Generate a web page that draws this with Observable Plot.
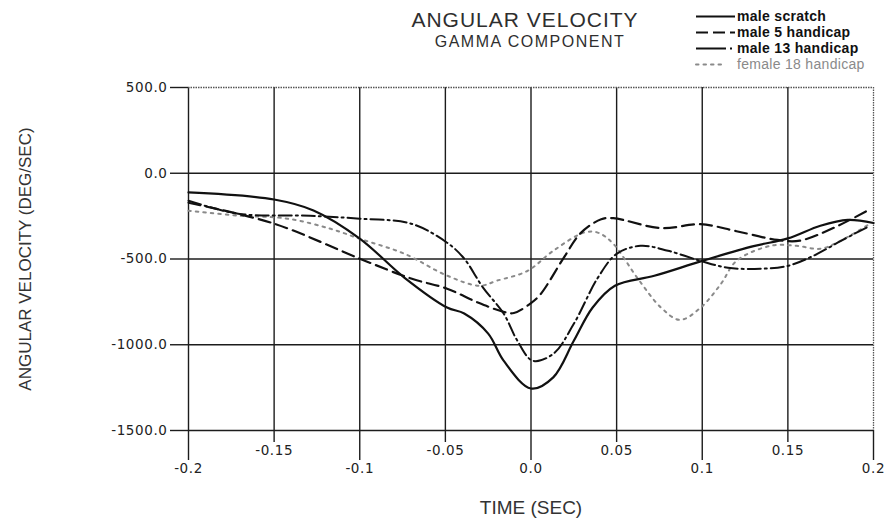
<!DOCTYPE html>
<html><head><meta charset="utf-8">
<script src="https://cdn.jsdelivr.net/npm/d3@7"></script>
<script src="https://cdn.jsdelivr.net/npm/@observablehq/plot@0.6"></script>
<style>
body{margin:0;background:#fff;}
#wrap{position:relative;width:890px;height:527px;font-family:"Liberation Sans",Arial,sans-serif;color:#333;}
#wrap svg.plot{position:absolute;left:0;top:0;}
.ttl{position:absolute;text-align:center;white-space:nowrap;}
.leg{position:absolute;left:695px;height:14px;line-height:14px;font-size:14px;white-space:nowrap;letter-spacing:0.3px;}
.leg svg{vertical-align:top;margin-right:2px;}
[aria-label$="tick label"]{letter-spacing:0.6px;font-family:"DejaVu Sans",sans-serif;font-size:13.5px;fill:#222;}
</style>
</head><body>
<div id="wrap"></div>
<script>
// ---- data ----
const scratchT = [-0.2, -0.15, -0.127, -0.1, -0.074, -0.049, -0.039, -0.025, -0.016, 0, 0.013, 0.025, 0.036, 0.049, 0.072, 0.1, 0.13, 0.15, 0.169, 0.185, 0.2];
const scratchV = [-112, -153, -217, -381, -608, -783, -818, -935, -1093, -1255, -1190, -977, -783, -656, -598, -511, -425, -380, -306, -272, -290];

const male5T = [-0.2, -0.15, -0.1, -0.07, -0.049, -0.031, -0.016, -0.01, 0, 0.0056, 0.019, 0.029, 0.041, 0.048, 0.076, 0.099, 0.12, 0.144, 0.157, 0.177, 0.198];
const male5V = [-172, -294, -498, -614, -673, -754, -808, -815, -757, -705, -495, -349, -268, -262, -320, -297, -338, -389, -393, -317, -210];

const male13T = [-0.2, -0.171, -0.129, -0.1, -0.07, -0.049, -0.039, -0.028, -0.016, -0.008, 0.001, 0.013, 0.025, 0.039, 0.05, 0.064, 0.08, 0.099, 0.115, 0.134, 0.15, 0.165, 0.181, 0.198];
const male13V = [-160, -236, -248, -265, -294, -405, -498, -667, -818, -976, -1093, -1053, -878, -610, -470, -423, -452, -511, -551, -557, -540, -481, -394, -306];

const femaleT = [-0.2, -0.171, -0.142, -0.117, -0.1, -0.074, -0.049, -0.03, -0.02, -0.002, 0.013, 0.031, 0.039, 0.048, 0.062, 0.076, 0.087, 0.099, 0.111, 0.12, 0.14, 0.155, 0.169, 0.181, 0.198];
const femaleV = [-218, -247, -265, -324, -382, -469, -597, -656, -627, -569, -452, -346, -346, -411, -609, -784, -855, -784, -644, -511, -423, -423, -440, -393, -294];

const seriesNames = ["male scratch", "male 5 handicap", "male 13 handicap", "female 18 handicap"];
const yTicks = [500, 0, -500, -1000, -1500];
const yTickLabels = ["500.0", "0.0", "-500.0", "-1000.0", "-1500.0"];
const xMajor = [-0.2, -0.1, 0, 0.1, 0.2];
const xMajorLabels = ["-0.2", "-0.1", "0.0", "0.1", "0.2"];
const xMinor = [-0.15, -0.05, 0.05, 0.15];
const xMinorLabels = ["-0.15", "-0.05", "0.05", "0.15"];
const titleText = "ANGULAR VELOCITY";
const subtitleText = "GAMMA COMPONENT";
const xTitle = "TIME (SEC)";
const yTitle = "ANGULAR VELOCITY (DEG/SEC)";

// ---- build table ----
const toRows = (T, V, s) => T.map((t, i) => ({t, v: V[i], s}));
const scratch = toRows(scratchT, scratchV, seriesNames[0]);
const male5 = toRows(male5T, male5V, seriesNames[1]);
const male13 = toRows(male13T, male13V, seriesNames[2]);
const female = toRows(femaleT, femaleV, seriesNames[3]);

const styles = [
  {stroke: "#111", strokeWidth: 2.2, dash: null},
  {stroke: "#111", strokeWidth: 2.2, dash: "12,6"},
  {stroke: "#111", strokeWidth: 2, dash: "13,4,2,4"},
  {stroke: "#8a8a8a", strokeWidth: 2, dash: "2.5,5"}
];

const gridStroke = "#1c1c1c";
const chart = Plot.plot({
  width: 890, height: 527,
  marginLeft: 188, marginRight: 17, marginTop: 87, marginBottom: 97,
  x: {domain: [-0.2, 0.2]},
  y: {domain: [-1500, 500]},
  style: {fontFamily: "Liberation Sans, Arial, sans-serif", fontSize: "14px", color: "#333", background: "transparent"},
  marks: [
    Plot.ruleX([...xMajor, ...xMinor].filter(d => d !== 0.2), {x: d => d, stroke: gridStroke, strokeWidth: 1.4}),
    Plot.ruleX([0.2], {x: d => d, stroke: "#555", strokeWidth: 1.3, strokeDasharray: "1.5,1"}),
    Plot.ruleY(yTicks.filter(d => d !== 500), {y: d => d, stroke: gridStroke, strokeWidth: 1.4}),
    Plot.ruleY([500], {y: d => d, stroke: "#555", strokeWidth: 1.3, strokeDasharray: "1.5,1"}),
    Plot.axisY({ticks: yTicks, tickSize: 18, tickPadding: 3, strokeWidth: 1.4, stroke: gridStroke,
      tickFormat: d => yTickLabels[yTicks.indexOf(d)], label: null}),
    Plot.axisX({ticks: xMajor, tickSize: 30, tickPadding: 3, strokeWidth: 1.4, stroke: gridStroke,
      tickFormat: d => xMajorLabels[xMajor.indexOf(d)], label: null}),
    Plot.axisX({ticks: xMinor, tickSize: 12, tickPadding: 3, strokeWidth: 1.4, stroke: gridStroke,
      tickFormat: d => xMinorLabels[xMinor.indexOf(d)], label: null}),
    Plot.line(female, {x: "t", y: "v", curve: "catmull-rom", stroke: styles[3].stroke, strokeWidth: styles[3].strokeWidth, strokeDasharray: styles[3].dash, strokeLinecap: "round"}),
    Plot.line(male13, {x: "t", y: "v", curve: "catmull-rom", stroke: styles[2].stroke, strokeWidth: styles[2].strokeWidth, strokeDasharray: styles[2].dash}),
    Plot.line(male5, {x: "t", y: "v", curve: "catmull-rom", stroke: styles[1].stroke, strokeWidth: styles[1].strokeWidth, strokeDasharray: styles[1].dash}),
    Plot.line(scratch, {x: "t", y: "v", curve: "catmull-rom", stroke: styles[0].stroke, strokeWidth: styles[0].strokeWidth}),
    Plot.text([yTitle], {text: d => d, frameAnchor: "left", textAnchor: "middle", dx: -163, rotate: -90, fontSize: 17, fill: "#333"}),
    Plot.text([xTitle], {text: d => d, frameAnchor: "bottom", dy: 83, fontSize: 19, fill: "#333"})
  ]
});
chart.classList.add("plot");
const wrap = document.getElementById("wrap");
wrap.appendChild(chart);

// titles
const t1 = document.createElement("div");
t1.className = "ttl"; t1.textContent = titleText;
Object.assign(t1.style, {left: "325px", width: "400px", top: "9px", fontSize: "21px", lineHeight: "21px", letterSpacing: "1px", color: "#2e2e2e"});
wrap.appendChild(t1);
const t2 = document.createElement("div");
t2.className = "ttl"; t2.textContent = subtitleText;
Object.assign(t2.style, {left: "330px", width: "400px", top: "33.5px", fontSize: "16px", lineHeight: "16px", letterSpacing: "1.5px", color: "#2e2e2e"});
wrap.appendChild(t2);

// legend
const baselines = [20.5, 37, 53, 68.5];
seriesNames.forEach((name, i) => {
  const row = document.createElement("div");
  row.className = "leg";
  row.style.top = (baselines[i] - 11.85) + "px";
  const st = styles[i];
  row.style.fontWeight = i < 3 ? "bold" : "normal";
  row.style.color = i < 3 ? "#111" : "#8a8a8a";
  const sv = d3.create("svg").attr("width", 40).attr("height", 14);
  sv.append("line").attr("x1", 1).attr("x2", i === 3 ? 30 : 40).attr("y1", 7.5).attr("y2", 7.5)
    .attr("stroke", st.stroke).attr("stroke-width", st.strokeWidth)
    .attr("stroke-dasharray", i === 1 ? "12,5" : i === 2 ? "30,4,2,4" : st.dash)
    .attr("stroke-linecap", i === 3 ? "round" : "butt");
  row.appendChild(sv.node());
  row.appendChild(document.createTextNode(name));
  wrap.appendChild(row);
});
</script>
</body></html>
